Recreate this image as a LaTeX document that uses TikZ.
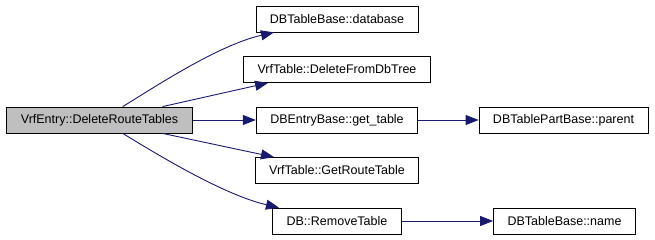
\documentclass[tikz,border=0pt]{standalone}
\usepackage{fontspec}
\setmainfont{Liberation Sans}
\usetikzlibrary{arrows.meta, positioning}

\definecolor{callblue}{HTML}{191970}

\tikzset{
  fn/.style={draw=black, line width=0.8pt, fill=white, minimum height=26pt,
    inner xsep=14pt, font=\fontsize{12.5}{15}\selectfont},
  call/.style={draw=callblue, line width=0.9pt,
    -{Triangle[length=13pt, width=10pt, fill=callblue]}},
}

\begin{document}
\begin{tikzpicture}[x=1pt, y=1pt]
    \useasboundingbox (0,0) rectangle (655,240);

    % caller
    \node[fn, fill=black!25] (root) at (99.5,120) {VrfEntry::DeleteRouteTables};

    % direct callees
    \node[fn] (database) at (337,221)   {DBTableBase::database};
    \node[fn] (deltree)  at (337,170.5) {VrfTable::DeleteFromDbTree};
    \node[fn] (gettable) at (337,120)   {DBEntryBase::get\_table};
    \node[fn] (getroute) at (337,69.5)  {VrfTable::GetRouteTable};
    \node[fn] (remove)   at (337,19)    {DB::RemoveTable};

    % second level
    \node[fn] (parent) at (563.5,120) {DBTablePartBase::parent};
    \node[fn] (name)   at (564.5,19)  {DBTableBase::name};

    \draw[call] (root.30) .. controls +(28,17) and +(-57,-13) .. (database.192);
    \draw[call] (root.12) -- (deltree.191);
    \draw[call] (root) -- (gettable);
    \draw[call] (root.-12) -- (getroute.168);
    \draw[call] (root.-30) .. controls +(28,-17) and +(-57,13) .. (remove.167);

    \draw[call] (gettable) -- (parent);
    \draw[call] (remove) -- (name);
\end{tikzpicture}
\end{document}
